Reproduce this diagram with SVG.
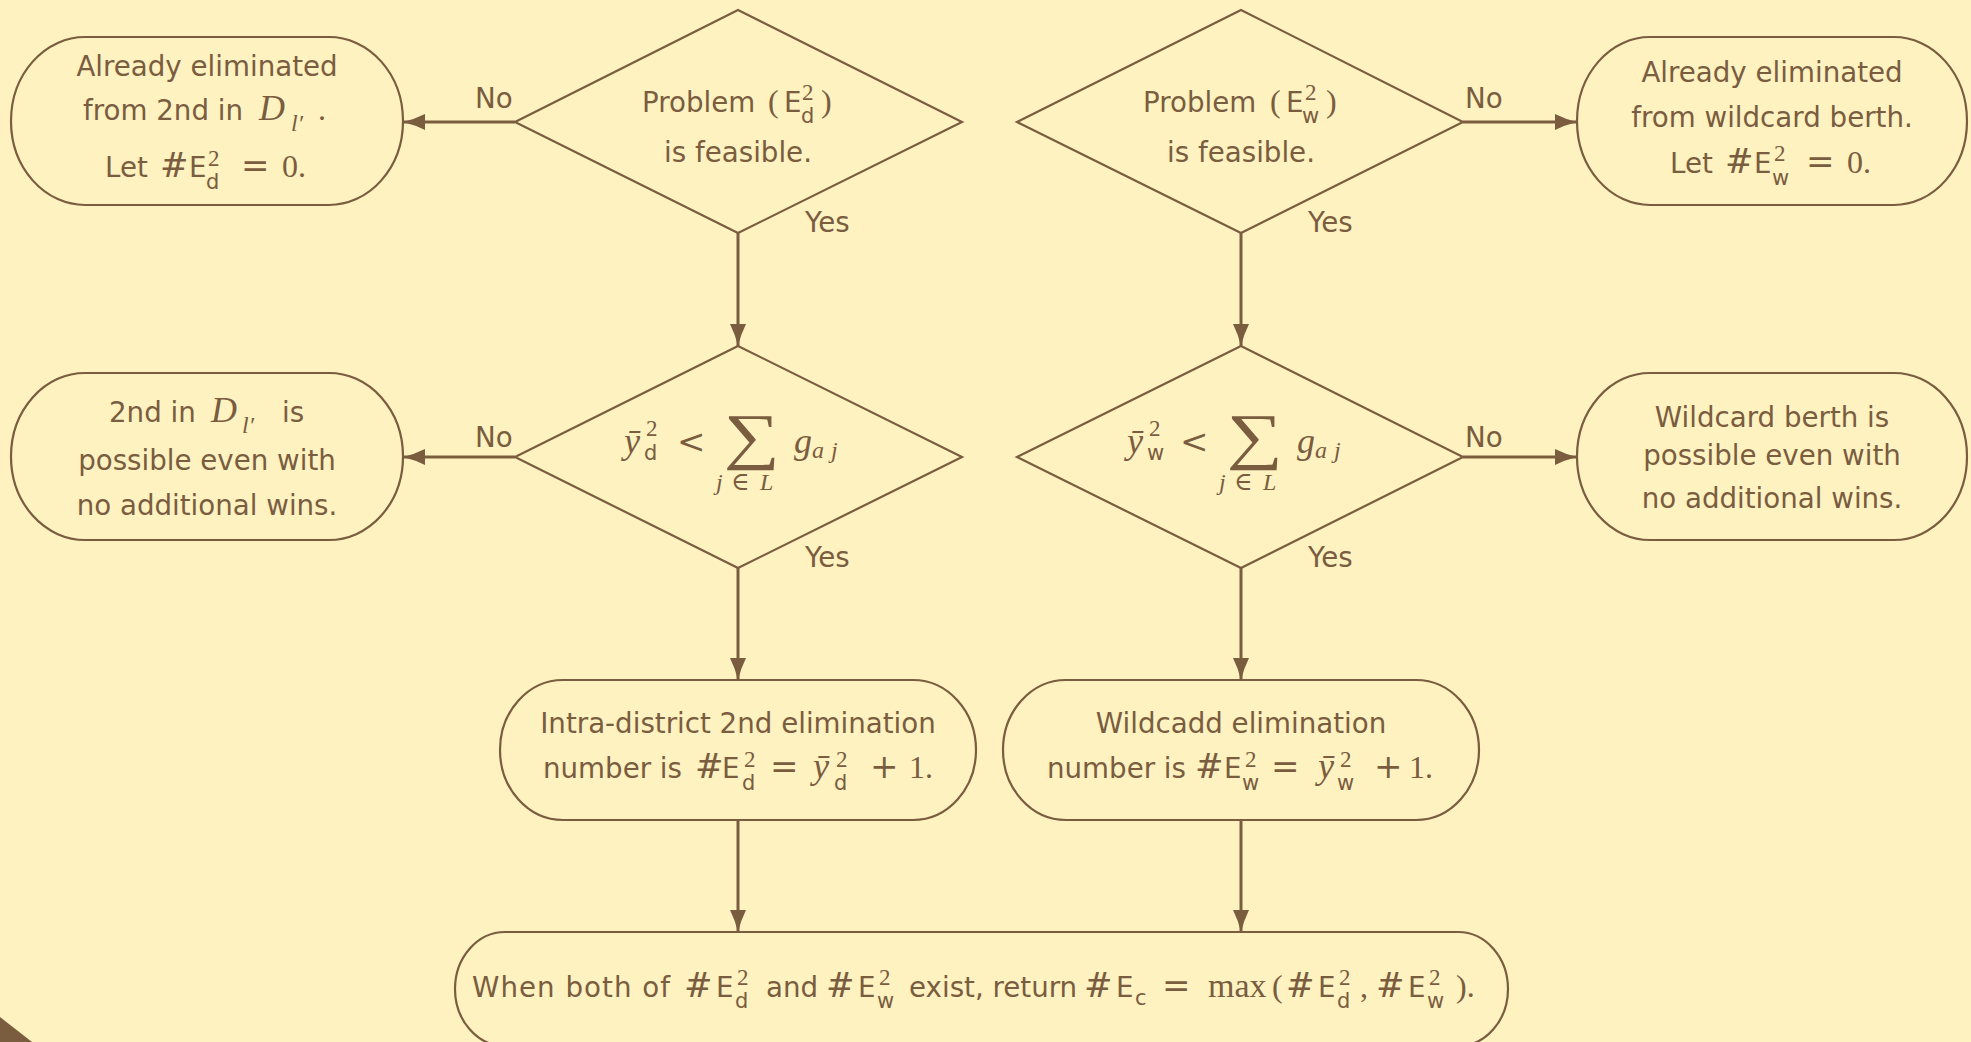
<svg xmlns="http://www.w3.org/2000/svg" width="1971" height="1042" viewBox="0 0 1971 1042">
<defs>
<style>
.bg{fill:#fef2c1}
.nd{fill:#fef2c1;stroke:#7a5c3f;stroke-width:2.2}
.cn{fill:none;stroke:#7a5c3f;stroke-width:3}
text{fill:#7a5c3f}
.t{font-family:"DejaVu Sans",sans-serif;font-size:27.7px}
.ss{font-family:"DejaVu Sans",sans-serif;font-size:21px}
.op{font-family:"DejaVu Serif",serif;font-size:34px}
.rm{font-family:"Liberation Serif","DejaVu Serif",serif;font-size:32px}
.rs{font-family:"Liberation Serif","DejaVu Serif",serif;font-size:23px}
.it{font-family:"Liberation Serif","DejaVu Serif",serif;font-style:italic;font-size:36px}
.its{font-family:"Liberation Serif","DejaVu Serif",serif;font-style:italic;font-size:24px}
.os{font-family:"DejaVu Serif",serif;font-size:25px}
</style>
<marker id="ah" markerUnits="userSpaceOnUse" markerWidth="24" markerHeight="18" refX="22" refY="8" orient="auto">
<path d="M0,0 Q10,5 22,8 Q10,11 0,16 Z" fill="#7a5c3f"/>
</marker>
</defs>
<rect class="bg" x="0" y="0" width="1971" height="1042"/>
<polygon points="0,1017 32,1042 0,1042" fill="#7a5c3f"/>

<g id="connectors">
<line class="cn" x1="515" y1="122" x2="403" y2="122" marker-end="url(#ah)"/>
<line class="cn" x1="738" y1="233" x2="738" y2="346" marker-end="url(#ah)"/>
<line class="cn" x1="1463" y1="122" x2="1577" y2="122" marker-end="url(#ah)"/>
<line class="cn" x1="1241" y1="233" x2="1241" y2="346" marker-end="url(#ah)"/>
<line class="cn" x1="515" y1="457" x2="403" y2="457" marker-end="url(#ah)"/>
<line class="cn" x1="1463" y1="457" x2="1577" y2="457" marker-end="url(#ah)"/>
<line class="cn" x1="738" y1="568" x2="738" y2="680" marker-end="url(#ah)"/>
<line class="cn" x1="1241" y1="568" x2="1241" y2="680" marker-end="url(#ah)"/>
<line class="cn" x1="738" y1="820" x2="738" y2="932" marker-end="url(#ah)"/>
<line class="cn" x1="1241" y1="820" x2="1241" y2="932" marker-end="url(#ah)"/>
<text class="t" x="475" y="108">No</text>
<text class="t" x="805" y="232">Yes</text>
<text class="t" x="1465" y="108">No</text>
<text class="t" x="1308" y="232">Yes</text>
<text class="t" x="475" y="447">No</text>
<text class="t" x="805" y="567">Yes</text>
<text class="t" x="1465" y="447">No</text>
<text class="t" x="1308" y="567">Yes</text>
</g>

<g id="n1">
<path class="nd" d="M85,37 H329 A74,84 0 0 1 329,205 H85 A74,84 0 0 1 85,37 Z"/>
<text class="t" x="207" y="76" text-anchor="middle">Already eliminated</text>
<text><tspan class="t" x="83" y="120">from 2nd in</tspan><tspan class="it" x="259" y="120">D</tspan><tspan class="its" x="291" y="131">l′</tspan><tspan class="rm" x="318" y="120">.</tspan></text>
<text><tspan class="t" x="105" y="177">Let</tspan><tspan class="op" x="160" y="177">#</tspan><tspan class="t" x="189" y="177">E</tspan><tspan class="rs" x="208" y="166">2</tspan><tspan class="ss" x="206" y="189">d</tspan><tspan class="op" x="241" y="177">=</tspan><tspan class="rm" x="282" y="177">0.</tspan></text>
</g>

<g id="d1">
<polygon class="nd" points="738,10 962,122 738,233 515,122"/>
<text><tspan class="t" x="642" y="112">Problem</tspan><tspan class="rm" x="768" y="112">(</tspan><tspan class="t" x="784" y="112">E</tspan><tspan class="rs" x="802" y="100">2</tspan><tspan class="ss" x="801" y="123">d</tspan><tspan class="rm" x="821" y="112">)</tspan></text>
<text class="t" x="738" y="162" text-anchor="middle">is feasible.</text>
</g>

<g id="d2">
<polygon class="nd" points="1241,10 1463,122 1241,233 1017,122"/>
<text><tspan class="t" x="1143" y="112">Problem</tspan><tspan class="rm" x="1270" y="112">(</tspan><tspan class="t" x="1286" y="112">E</tspan><tspan class="rs" x="1305" y="100">2</tspan><tspan class="ss" x="1302" y="123">w</tspan><tspan class="rm" x="1326" y="112">)</tspan></text>
<text class="t" x="1241" y="162" text-anchor="middle">is feasible.</text>
</g>

<g id="n4">
<path class="nd" d="M1650,37 H1894 A73,84 0 0 1 1894,205 H1650 A73,84 0 0 1 1650,37 Z"/>
<text class="t" x="1772" y="82" text-anchor="middle">Already eliminated</text>
<text class="t" x="1772" y="127" text-anchor="middle">from wildcard berth.</text>
<text><tspan class="t" x="1670" y="173">Let</tspan><tspan class="op" x="1725" y="173">#</tspan><tspan class="t" x="1754" y="173">E</tspan><tspan class="rs" x="1774" y="161">2</tspan><tspan class="ss" x="1772" y="185">w</tspan><tspan class="op" x="1806" y="173">=</tspan><tspan class="rm" x="1847" y="173">0.</tspan></text>
</g>

<g id="n2">
<path class="nd" d="M85,373 H329 A74,83.5 0 0 1 329,540 H85 A74,83.5 0 0 1 85,373 Z"/>
<text><tspan class="t" x="109" y="422">2nd in</tspan><tspan class="it" x="211" y="422">D</tspan><tspan class="its" x="242" y="433">l′</tspan><tspan class="t" x="282" y="422">is</tspan></text>
<text class="t" x="207" y="470" text-anchor="middle">possible even with</text>
<text class="t" x="207" y="515" text-anchor="middle">no additional wins.</text>
</g>

<g id="d3">
<polygon class="nd" points="738,346 962,457 738,568 515,457"/>
<text><tspan class="it" x="624" y="453">ȳ</tspan><tspan class="rs" x="646" y="436">2</tspan><tspan class="ss" x="644" y="460">d</tspan><tspan class="op" x="677" y="453">&lt;</tspan></text>
<text class="rm" transform="translate(751.5,457) scale(1.27,1)" text-anchor="middle" style="font-size:62px">∑</text>
<text><tspan class="its" x="716" y="490">j</tspan><tspan class="os" x="731" y="490">∈</tspan><tspan class="its" x="760" y="490">L</tspan></text>
<text><tspan class="it" x="794" y="453">g</tspan><tspan class="its" x="812" y="458">a</tspan><tspan class="its" x="831" y="458">j</tspan></text>
</g>

<g id="d4">
<polygon class="nd" points="1241,346 1463,457 1241,568 1017,457"/>
<text><tspan class="it" x="1127" y="453">ȳ</tspan><tspan class="rs" x="1149" y="436">2</tspan><tspan class="ss" x="1147" y="460">w</tspan><tspan class="op" x="1180" y="453">&lt;</tspan></text>
<text class="rm" transform="translate(1254.5,457) scale(1.27,1)" text-anchor="middle" style="font-size:62px">∑</text>
<text><tspan class="its" x="1219" y="490">j</tspan><tspan class="os" x="1234" y="490">∈</tspan><tspan class="its" x="1263" y="490">L</tspan></text>
<text><tspan class="it" x="1297" y="453">g</tspan><tspan class="its" x="1315" y="458">a</tspan><tspan class="its" x="1334" y="458">j</tspan></text>
</g>

<g id="n8">
<path class="nd" d="M1650,373 H1894 A73,83.5 0 0 1 1894,540 H1650 A73,83.5 0 0 1 1650,373 Z"/>
<text class="t" x="1772" y="427" text-anchor="middle">Wildcard berth is</text>
<text class="t" x="1772" y="465" text-anchor="middle">possible even with</text>
<text class="t" x="1772" y="508" text-anchor="middle">no additional wins.</text>
</g>

<g id="n5">
<path class="nd" d="M563,680 H913 A63,70 0 0 1 913,820 H563 A63,70 0 0 1 563,680 Z"/>
<text class="t" x="738" y="733" text-anchor="middle">Intra-district 2nd elimination</text>
<text><tspan class="t" x="543" y="778">number is</tspan><tspan class="op" x="695" y="778">#</tspan><tspan class="t" x="722" y="778">E</tspan><tspan class="rs" x="744" y="767">2</tspan><tspan class="ss" x="742" y="790">d</tspan><tspan class="op" x="770" y="778">=</tspan><tspan class="it" x="813" y="778">ȳ</tspan><tspan class="rs" x="836" y="767">2</tspan><tspan class="ss" x="834" y="790">d</tspan><tspan class="op" x="870" y="778">+</tspan><tspan class="rm" x="909" y="778">1.</tspan></text>
</g>

<g id="n6">
<path class="nd" d="M1066,680 H1416 A63,70 0 0 1 1416,820 H1066 A63,70 0 0 1 1066,680 Z"/>
<text class="t" x="1241" y="733" text-anchor="middle">Wildcadd elimination</text>
<text><tspan class="t" x="1047" y="778">number is</tspan><tspan class="op" x="1195" y="778">#</tspan><tspan class="t" x="1224" y="778">E</tspan><tspan class="rs" x="1245" y="767">2</tspan><tspan class="ss" x="1242" y="790">w</tspan><tspan class="op" x="1271" y="778">=</tspan><tspan class="it" x="1318" y="778">ȳ</tspan><tspan class="rs" x="1340" y="767">2</tspan><tspan class="ss" x="1337" y="790">w</tspan><tspan class="op" x="1374" y="778">+</tspan><tspan class="rm" x="1409" y="778">1.</tspan></text>
</g>

<g id="n7">
<path class="nd" d="M505,932 H1458 A50,57 0 0 1 1458,1046 H505 A50,57 0 0 1 505,932 Z"/>
<text><tspan class="t" x="472" y="997" textLength="198" lengthAdjust="spacing">When both of</tspan><tspan class="op" x="684" y="997">#</tspan><tspan class="t" x="716" y="997">E</tspan><tspan class="rs" x="737" y="985">2</tspan><tspan class="ss" x="735" y="1008">d</tspan><tspan class="t" x="766" y="997">and</tspan><tspan class="op" x="826" y="997">#</tspan><tspan class="t" x="858" y="997">E</tspan><tspan class="rs" x="879" y="985">2</tspan><tspan class="ss" x="877" y="1008">w</tspan><tspan class="t" x="909" y="997">exist, return</tspan><tspan class="op" x="1084" y="997">#</tspan><tspan class="t" x="1116" y="997">E</tspan><tspan class="ss" x="1135" y="1005">c</tspan><tspan class="op" x="1162" y="997">=</tspan><tspan class="rm" x="1208" y="997" style="font-size:34px">max</tspan><tspan class="rm" x="1272" y="997">(</tspan><tspan class="op" x="1286" y="997">#</tspan><tspan class="t" x="1318" y="997">E</tspan><tspan class="rs" x="1339" y="985">2</tspan><tspan class="ss" x="1337" y="1008">d</tspan><tspan class="rm" x="1360" y="997">,</tspan><tspan class="op" x="1376" y="997">#</tspan><tspan class="t" x="1408" y="997">E</tspan><tspan class="rs" x="1429" y="985">2</tspan><tspan class="ss" x="1427" y="1008">w</tspan><tspan class="rm" x="1456" y="997">).</tspan></text>
</g>
</svg>
